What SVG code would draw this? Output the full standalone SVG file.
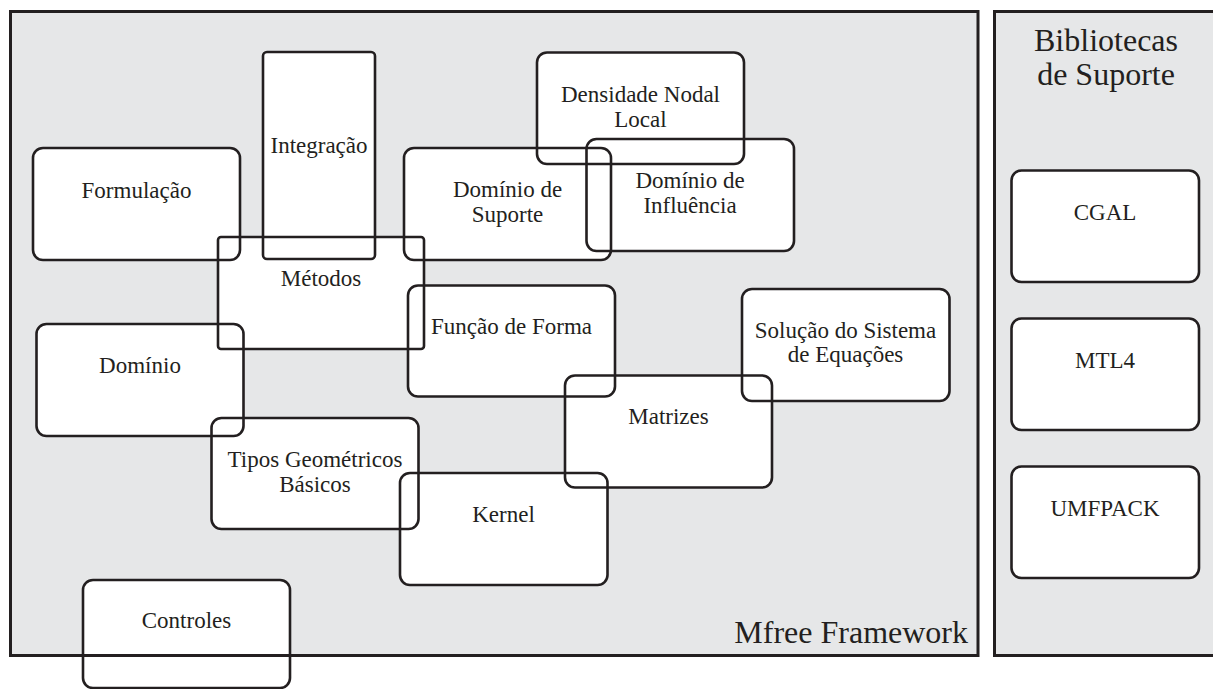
<svg xmlns="http://www.w3.org/2000/svg" xmlns:xlink="http://www.w3.org/1999/xlink" width="1213" height="689" viewBox="0 0 1213 689">
  <style>
    .panel { fill: #e6e7e8; stroke: none; }
    .frame { fill: none; stroke: #231f20; stroke-width: 3; }
    .fill { fill: #ffffff; stroke: none; }
    .line { fill: none; stroke: #231f20; stroke-width: 2.6; }
    text { font-family: "Liberation Serif", "Times New Roman", serif; fill: #231f20; text-anchor: middle; }
    .lbl { font-size: 23px; }
    .title { font-size: 32px; }
  </style>
  <defs>
    <!-- box geometry, shared by the white fills and the outline layer -->
    <rect id="g-integracao" x="263" y="52" width="112" height="207" rx="4"/>
    <rect id="g-formulacao" x="33" y="148" width="207" height="112" rx="10"/>
    <rect id="g-metodos" x="218" y="237" width="206" height="112" rx="3"/>
    <rect id="g-dominio" x="36.5" y="324" width="207" height="112" rx="10"/>
    <rect id="g-densidade" x="537" y="52.5" width="207" height="111.5" rx="10"/>
    <rect id="g-suporte" x="404" y="148" width="207" height="112" rx="10"/>
    <rect id="g-influencia" x="586.5" y="139" width="207.5" height="112" rx="10"/>
    <rect id="g-funcao" x="408" y="285.5" width="207" height="111" rx="10"/>
    <rect id="g-solucao" x="742" y="289" width="207.5" height="112" rx="10"/>
    <rect id="g-matrizes" x="565" y="375.5" width="207" height="112" rx="10"/>
    <rect id="g-tipos" x="211.5" y="418" width="207" height="111" rx="10"/>
    <rect id="g-kernel" x="400" y="473" width="207.5" height="112" rx="10"/>
    <rect id="g-controles" x="83" y="580" width="207" height="108" rx="10"/>
    <rect id="g-cgal" x="1011.5" y="170.5" width="187.5" height="111.5" rx="10"/>
    <rect id="g-mtl4" x="1011.5" y="318.5" width="187.5" height="111.5" rx="10"/>
    <rect id="g-umfpack" x="1011.5" y="466.5" width="187.5" height="111.5" rx="10"/>
  </defs>

  <!-- background panels -->
  <g id="panels">
    <rect class="panel" x="10.5" y="11.5" width="967.5" height="644"/>
    <rect class="panel" x="994.5" y="11.5" width="230" height="644"/>
  </g>

  <!-- node fills and labels -->
  <g id="integracao"><use xlink:href="#g-integracao" class="fill"/><text class="lbl" x="319" y="153">Integração</text></g>
  <g id="formulacao"><use xlink:href="#g-formulacao" class="fill"/><text class="lbl" x="136.5" y="198">Formulação</text></g>
  <g id="metodos"><use xlink:href="#g-metodos" class="fill"/><text class="lbl" x="321" y="286">Métodos</text></g>
  <g id="dominio"><use xlink:href="#g-dominio" class="fill"/><text class="lbl" x="140" y="373">Domínio</text></g>
  <g id="densidade"><use xlink:href="#g-densidade" class="fill"/><text class="lbl" x="640.5" y="102">Densidade Nodal</text><text class="lbl" x="640.5" y="127">Local</text></g>
  <g id="dominio-suporte"><use xlink:href="#g-suporte" class="fill"/><text class="lbl" x="507.5" y="197">Domínio de</text><text class="lbl" x="507.5" y="222">Suporte</text></g>
  <g id="dominio-influencia"><use xlink:href="#g-influencia" class="fill"/><text class="lbl" x="690" y="188">Domínio de</text><text class="lbl" x="690" y="213">Influência</text></g>
  <g id="funcao-forma"><use xlink:href="#g-funcao" class="fill"/><text class="lbl" x="511.5" y="334">Função de Forma</text></g>
  <g id="solucao"><use xlink:href="#g-solucao" class="fill"/><text class="lbl" x="845.5" y="338">Solução do Sistema</text><text class="lbl" x="845.5" y="362">de Equações</text></g>
  <g id="matrizes"><use xlink:href="#g-matrizes" class="fill"/><text class="lbl" x="668.5" y="424">Matrizes</text></g>
  <g id="tipos"><use xlink:href="#g-tipos" class="fill"/><text class="lbl" x="315" y="467">Tipos Geométricos</text><text class="lbl" x="315" y="492">Básicos</text></g>
  <g id="kernel"><use xlink:href="#g-kernel" class="fill"/><text class="lbl" x="503.5" y="522">Kernel</text></g>
  <g id="controles"><use xlink:href="#g-controles" class="fill"/><text class="lbl" x="186.5" y="628">Controles</text></g>
  <g id="cgal"><use xlink:href="#g-cgal" class="fill"/><text class="lbl" x="1105" y="220">CGAL</text></g>
  <g id="mtl4"><use xlink:href="#g-mtl4" class="fill"/><text class="lbl" x="1105" y="368">MTL4</text></g>
  <g id="umfpack"><use xlink:href="#g-umfpack" class="fill"/><text class="lbl" x="1105" y="516">UMFPACK</text></g>

  <!-- panel borders and titles -->
  <g id="frames">
    <rect class="frame" x="10.5" y="11.5" width="967.5" height="644"/>
    <rect class="frame" x="994.5" y="11.5" width="230" height="644"/>
    <text class="title" x="968" y="643" style="text-anchor:end">Mfree Framework</text>
    <text class="title" x="1106" y="51">Bibliotecas</text>
    <text class="title" x="1106" y="85">de Suporte</text>
  </g>

  <!-- outlines on top so overlapping borders all stay visible -->
  <g id="outlines">
    <use xlink:href="#g-integracao" class="line"/>
    <use xlink:href="#g-formulacao" class="line"/>
    <use xlink:href="#g-metodos" class="line"/>
    <use xlink:href="#g-dominio" class="line"/>
    <use xlink:href="#g-densidade" class="line"/>
    <use xlink:href="#g-suporte" class="line"/>
    <use xlink:href="#g-influencia" class="line"/>
    <use xlink:href="#g-funcao" class="line"/>
    <use xlink:href="#g-solucao" class="line"/>
    <use xlink:href="#g-matrizes" class="line"/>
    <use xlink:href="#g-tipos" class="line"/>
    <use xlink:href="#g-kernel" class="line"/>
    <use xlink:href="#g-controles" class="line"/>
    <use xlink:href="#g-cgal" class="line"/>
    <use xlink:href="#g-mtl4" class="line"/>
    <use xlink:href="#g-umfpack" class="line"/>
  </g>
</svg>
